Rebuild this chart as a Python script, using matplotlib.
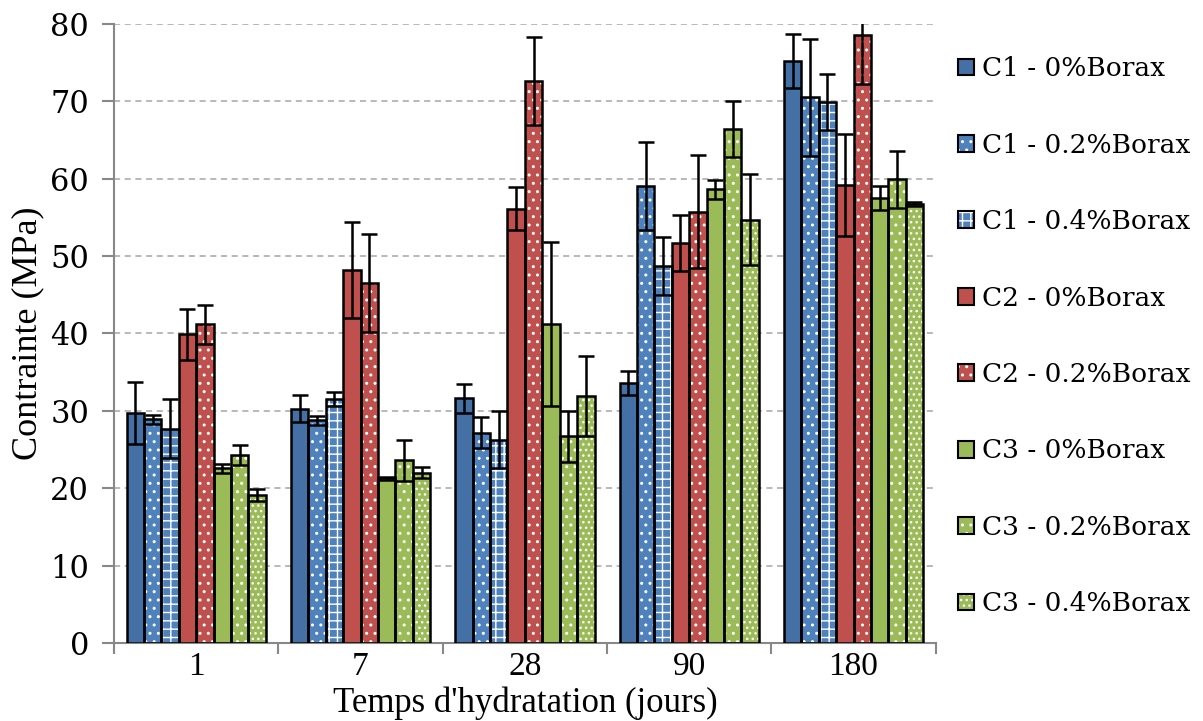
import matplotlib
matplotlib.use("Agg")
import matplotlib.pyplot as plt
from matplotlib.patches import Patch
from matplotlib.legend_handler import HandlerTuple
import numpy as np

# temps d'hydratation (jours)
jours = ["1", "7", "28", "90", "180"]

series = ["C1 - 0%Borax", "C1 - 0.2%Borax", "C1 - 0.4%Borax",
          "C2 - 0%Borax", "C2 - 0.2%Borax",
          "C3 - 0%Borax", "C3 - 0.2%Borax", "C3 - 0.4%Borax"]

# contrainte moyenne (MPa), une liste par serie
c1_0 = [29.7, 30.3, 31.6, 33.6, 75.2]
c1_02 = [28.9, 28.8, 27.2, 59.0, 70.5]
c1_04 = [27.7, 31.5, 26.3, 48.7, 69.9]
c2_0 = [39.9, 48.2, 56.1, 51.7, 59.2]
c2_02 = [41.2, 46.5, 72.6, 55.7, 78.5]
c3_0 = [22.6, 21.3, 41.2, 58.6, 57.5]
c3_02 = [24.3, 23.6, 26.7, 66.4, 59.9]
c3_04 = [19.1, 22.0, 31.9, 54.7, 56.7]

# ecarts (barres d'erreur)
e1_0 = [4.0, 1.8, 1.9, 1.5, 3.5]
e1_02 = [0.6, 0.6, 2.0, 5.7, 7.6]
e1_04 = [3.8, 0.9, 3.7, 3.7, 3.6]
e2_0 = [3.3, 6.2, 2.8, 3.6, 6.6]
e2_02 = [2.5, 6.3, 5.7, 7.3, 6.3]
e3_0 = [0.6, 0.2, 10.6, 1.2, 1.5]
e3_02 = [1.3, 2.7, 3.3, 3.6, 3.7]
e3_04 = [0.8, 0.7, 5.2, 5.9, 0.3]

valeurs = [c1_0, c1_02, c1_04, c2_0, c2_02, c3_0, c3_02, c3_04]
erreurs = [e1_0, e1_02, e1_04, e2_0, e2_02, e3_0, e3_02, e3_04]

couleurs = ["#4470A6", "#4F81BD", "#4F81BD", "#C0504D", "#C0504D",
            "#9BBB59", "#9BBB59", "#9BBB59"]
motifs = [None, "..", "++", None, "..", None, "..", "..."]

fig = plt.figure(figsize=(12.03, 7.21), dpi=100)
ax = fig.add_axes([0.0948, 0.108, 0.683, 0.859])

x = np.arange(len(jours))
w = 0.106
handles = []
for i, (vals, errs) in enumerate(zip(valeurs, erreurs)):
    pos = x + (i - 3.5) * w
    ax.bar(pos, vals, w, color=couleurs[i], edgecolor="white",
           hatch=motifs[i], linewidth=0, zorder=2)
    ax.bar(pos, vals, w, fill=False, edgecolor="black", linewidth=1.8, zorder=3)
    ax.errorbar(pos, vals, yerr=errs, fmt="none", ecolor="black",
                elinewidth=1.8, capsize=6, capthick=1.8, zorder=4)
    p1 = Patch(facecolor=couleurs[i], edgecolor="white", hatch=motifs[i], linewidth=0)
    p2 = Patch(fill=False, edgecolor="black", linewidth=1.5)
    handles.append((p1, p2))

ax.set_ylim(0, 80)
ax.set_xlim(-0.5, 4.5)
ax.set_yticks(range(0, 81, 10))
ax.yaxis.grid(True, color="#A6A6A6", linestyle=(0, (4, 3)), linewidth=1.1)
ax.set_axisbelow(True)

ax.set_xticks(x)
ax.set_xticklabels(jours, fontfamily="Liberation Serif", fontsize=24)
ax.set_xticks(np.arange(-0.5, 5, 1), minor=True)
ax.tick_params(axis="x", which="major", length=0, pad=6)
ax.tick_params(axis="x", which="minor", length=8, color="#888888", width=1.5)
ax.tick_params(axis="y", length=9, color="#888888", width=1.5, labelsize=22, pad=9)
for lab in ax.get_yticklabels():
    lab.set_fontfamily("DejaVu Serif")

for s in ["top", "right"]:
    ax.spines[s].set_visible(False)
for s in ["left", "bottom"]:
    ax.spines[s].set_color("#888888")
    ax.spines[s].set_linewidth(1.5)

ax.set_xlabel("Temps d'hydratation (jours)", fontfamily="Liberation Serif",
              fontsize=25)
ax.xaxis.set_label_coords(0.5, -0.07)
ax.set_ylabel("Contrainte (MPa)", fontfamily="Liberation Serif", fontsize=26,
              labelpad=4)

fig.legend(handles, series, handler_map={tuple: HandlerTuple(ndivide=1, pad=0)},
           loc="upper left", bbox_to_anchor=(0.777, 0.955), frameon=False,
           prop={"family": "DejaVu Serif", "size": 19}, labelspacing=1.95,
           handlelength=0.6, handleheight=0.6, handletextpad=0.3)

fig.savefig("out.png", dpi=100)
